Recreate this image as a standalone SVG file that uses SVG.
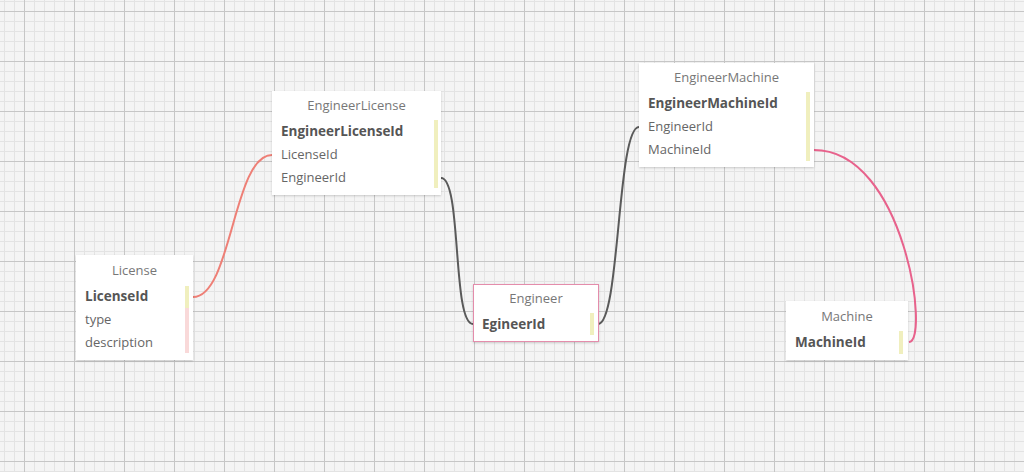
<svg xmlns="http://www.w3.org/2000/svg" width="1024" height="472" viewBox="0 0 1024 472">
<defs>
<pattern id="minor" width="10" height="10" x="4" y="1" patternUnits="userSpaceOnUse">
<path d="M0.5 0V10M0 0.5H10" stroke="#e3e3e3" stroke-width="1" fill="none"/>
</pattern>
<pattern id="major" width="50" height="50" x="24" y="11" patternUnits="userSpaceOnUse">
<path d="M0.5 0V50M0 0.5H50" stroke="#c6c6c6" stroke-width="1" fill="none"/>
</pattern>
<filter id="sh" x="-10%" y="-10%" width="120%" height="130%">
<feDropShadow dx="0" dy="1" stdDeviation="1" flood-color="#000" flood-opacity="0.18"/>
</filter>
</defs>
<style>
.box{fill:#fff;filter:url(#sh)}
.title{font-family:"Open Sans","Liberation Sans",sans-serif;font-size:13px;fill:#777;text-anchor:middle}
.pk{font-family:"Open Sans","Liberation Sans",sans-serif;font-size:13.5px;font-weight:bold;fill:#555}
.fld{font-family:"Open Sans","Liberation Sans",sans-serif;font-size:13px;fill:#666}
.yb{fill:#f0efbe}
.pb{fill:#f9d9d9}
.c{fill:none;stroke-width:2}
</style>
<rect width="1024" height="472" fill="#f4f4f4"/>
<rect width="1024" height="472" fill="url(#minor)"/>
<rect width="1024" height="472" fill="url(#major)"/>

<g id="connectors">
<path class="c" stroke="#ee7f76" d="M193 297C232 297 233 155 272 155"/>
<path class="c" stroke="#5a5a5a" d="M441 178C462 178 452 324 473 324"/>
<path class="c" stroke="#5a5a5a" d="M598 324C620 324 617 127 639 127"/>
<path class="c" stroke="#e8628c" d="M814 150C905 150 930 342 909 342"/>
</g>

<g id="License">
<rect class="box" x="76" y="255" width="117" height="105"/>
<text class="title" x="134.5" y="275">License</text>
<text class="pk" x="85" y="301">LicenseId</text>
<text class="fld" x="85" y="324">type</text>
<text class="fld" x="85" y="347">description</text>
<rect class="yb" x="185" y="286" width="4" height="22"/>
<rect class="pb" x="185" y="308" width="4" height="45"/>
</g>

<g id="EngineerLicense">
<rect class="box" x="272" y="91" width="169" height="104"/>
<text class="title" x="356.5" y="110">EngineerLicense</text>
<text class="pk" x="281" y="136">EngineerLicenseId</text>
<text class="fld" x="281" y="159">LicenseId</text>
<text class="fld" x="281" y="182">EngineerId</text>
<rect class="yb" x="434" y="120" width="4" height="68"/>
</g>

<g id="Engineer">
<rect class="box" x="473.5" y="284.5" width="125" height="57" stroke="#e48cab" stroke-width="1"/>
<text class="title" x="536" y="303">Engineer</text>
<text class="pk" x="482" y="329">EgineerId</text>
<rect class="yb" x="590" y="313" width="4" height="22"/>
</g>

<g id="EngineerMachine">
<rect class="box" x="639" y="63" width="175" height="104"/>
<text class="title" x="726.5" y="82">EngineerMachine</text>
<text class="pk" x="648" y="108">EngineerMachineId</text>
<text class="fld" x="648" y="131">EngineerId</text>
<text class="fld" x="648" y="154">MachineId</text>
<rect class="yb" x="806" y="92" width="4" height="69"/>
</g>

<g id="Machine">
<rect class="box" x="786" y="301" width="122" height="59"/>
<text class="title" x="847" y="321">Machine</text>
<text class="pk" x="795" y="347">MachineId</text>
<rect class="yb" x="899" y="331" width="4" height="23"/>
</g>
</svg>
